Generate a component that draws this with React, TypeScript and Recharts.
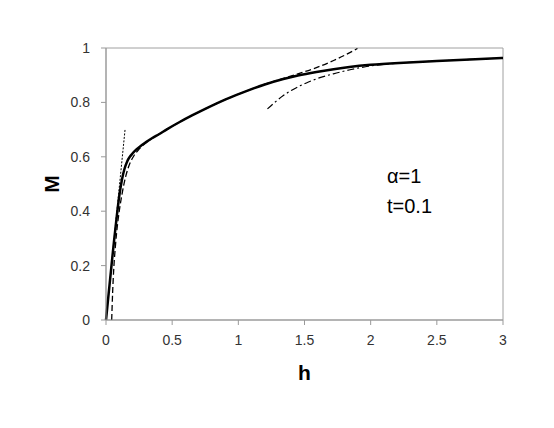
import { LineChart, Line, XAxis, YAxis, ReferenceArea } from 'recharts';

// full solution (solid)
const exactH = [0, 0.02, 0.04, 0.06, 0.08, 0.1, 0.12, 0.14, 0.16, 0.18, 0.2, 0.23, 0.26, 0.3, 0.35, 0.4, 0.46, 0.55, 0.65, 0.75, 0.9, 1.09, 1.2, 1.34, 1.45, 1.59, 1.72, 1.84, 2.0, 2.25, 2.5, 2.75, 3.0];
const exactM = [0, 0.097, 0.193, 0.287, 0.375, 0.455, 0.515, 0.556, 0.583, 0.6, 0.612, 0.627, 0.639, 0.653, 0.669, 0.683, 0.701, 0.726, 0.752, 0.776, 0.81, 0.847, 0.866, 0.886, 0.899, 0.912, 0.922, 0.93, 0.938, 0.946, 0.952, 0.958, 0.963];

// dashed approximation
const dashH = [0.043, 0.05, 0.06, 0.07, 0.08, 0.1, 0.12, 0.15, 0.18, 0.21, 0.25, 0.3, 0.35, 0.4, 0.46, 0.55, 0.65, 0.75, 0.9, 1.09, 1.2, 1.34, 1.45, 1.59, 1.72, 1.81, 1.9];
const dashM = [0, 0.1, 0.2, 0.265, 0.32, 0.4, 0.46, 0.53, 0.575, 0.603, 0.628, 0.651, 0.668, 0.683, 0.701, 0.726, 0.752, 0.776, 0.81, 0.847, 0.867, 0.888, 0.905, 0.928, 0.954, 0.975, 0.998];

// dash-dot, large h
const dotDashH = [1.22, 1.28, 1.34, 1.4, 1.466, 1.53, 1.593, 1.718, 1.844, 1.97, 2.1, 2.25, 2.5, 2.75, 3.0];
const dotDashM = [0.776, 0.802, 0.825, 0.844, 0.861, 0.875, 0.887, 0.905, 0.92, 0.932, 0.94, 0.946, 0.952, 0.958, 0.963];

// dotted, small h slope
const slopeH = [0, 0.144];
const slopeM = [0, 0.7];

const xTicks = [0, 0.5, 1, 1.5, 2, 2.5, 3];
const yTicks = [0, 0.2, 0.4, 0.6, 0.8, 1];

const toPoints = (hs: number[], ms: number[]) => hs.map((h, i) => ({ h, M: ms[i] }));

const exact = toPoints(exactH, exactM);
const dashed = toPoints(dashH, dashM);
const dotDash = toPoints(dotDashH, dotDashM);
const slope = toPoints(slopeH, slopeM);

const font = '"Liberation Sans", Arial, sans-serif';
const tickStyle = { fontSize: 14, fill: '#333', fontFamily: font };

const App = () => {
  return (
    <div style={{ position: 'relative', width: 554, height: 428 }}>
      <LineChart width={554} height={428} margin={{ top: 40, right: 59, left: 38, bottom: 56 }}>
        <XAxis
          type="number"
          dataKey="h"
          domain={[0, 3]}
          ticks={xTicks}
          height={60}
          tick={tickStyle}
          tickSize={5}
          tickMargin={10}
          stroke="#999"
          label={{ value: 'h', position: 'insideBottom', offset: 0, style: { fontSize: 21, fontWeight: 'bold', fill: '#000', fontFamily: font } }}
        />
        <YAxis
          type="number"
          domain={[0, 1]}
          ticks={yTicks}
          allowDataOverflow
          width={60}
          tick={tickStyle}
          tickSize={5}
          tickMargin={11}
          stroke="#999"
          label={{ value: 'M', angle: -90, position: 'center', dx: -24, style: { fontSize: 21, fontWeight: 'bold', fill: '#000', fontFamily: font } }}
        />
        <ReferenceArea x1={0} x2={3} y1={0} y2={1} fill="none" stroke="#a0a0a0" strokeWidth={1} />
        <Line data={slope} dataKey="M" type="linear" stroke="#000" strokeWidth={1} strokeDasharray="2 1.5" dot={false} isAnimationActive={false} />
        <Line data={dashed} dataKey="M" type="monotone" stroke="#000" strokeWidth={1.3} strokeDasharray="6 3" dot={false} isAnimationActive={false} />
        <Line data={dotDash} dataKey="M" type="monotone" stroke="#000" strokeWidth={1.2} strokeDasharray="7 3 2 3" dot={false} isAnimationActive={false} />
        <Line data={exact} dataKey="M" type="monotone" stroke="#000" strokeWidth={2.5} dot={false} isAnimationActive={false} />
      </LineChart>
      <div style={{ position: 'absolute', left: 379, top: 158, fontFamily: font, fontSize: 20, lineHeight: '20px', whiteSpace: 'nowrap' }}>α=1</div>
      <div style={{ position: 'absolute', left: 379, top: 188, fontFamily: font, fontSize: 20, lineHeight: '20px', whiteSpace: 'nowrap' }}>t=0.1</div>
    </div>
  );
};

export default App;
